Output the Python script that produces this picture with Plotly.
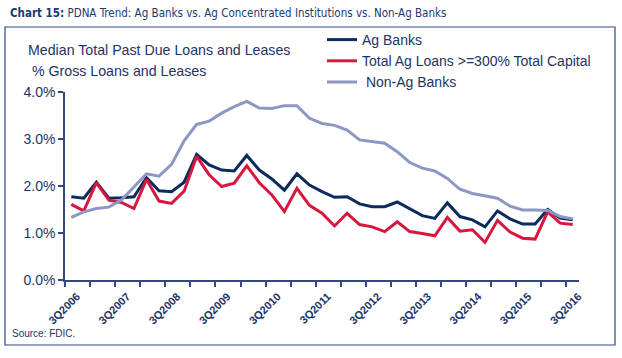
import plotly.graph_objects as go

# ---- data (% of gross loans and leases) ----
quarters = [f"{q}Q{y}" for y in range(2006, 2017) for q in (1, 2, 3, 4)][2:43]

ag_banks = [1.77, 1.74, 2.08, 1.74, 1.75, 1.77, 2.18, 1.90, 1.88, 2.08,
            2.67, 2.45, 2.34, 2.32, 2.65, 2.34, 2.15, 1.91, 2.26, 2.02,
            1.88, 1.76, 1.77, 1.62, 1.56, 1.56, 1.66, 1.52, 1.37, 1.31,
            1.64, 1.35, 1.28, 1.13, 1.47, 1.30, 1.19, 1.19, 1.50, 1.32, 1.28]
ag_conc = [1.61, 1.47, 2.07, 1.70, 1.65, 1.52, 2.14, 1.68, 1.63, 1.89,
           2.63, 2.24, 1.99, 2.06, 2.43, 2.07, 1.81, 1.46, 1.95, 1.59,
           1.42, 1.15, 1.42, 1.18, 1.13, 1.03, 1.24, 1.03, 0.99, 0.94,
           1.33, 1.04, 1.07, 0.80, 1.27, 1.02, 0.89, 0.87, 1.45, 1.21, 1.18]
non_ag = [1.33, 1.45, 1.52, 1.55, 1.70, 1.97, 2.26, 2.21, 2.46, 2.96,
          3.31, 3.38, 3.55, 3.69, 3.80, 3.66, 3.65, 3.71, 3.71, 3.44,
          3.33, 3.29, 3.19, 2.98, 2.94, 2.91, 2.73, 2.50, 2.38, 2.32,
          2.16, 1.93, 1.84, 1.79, 1.74, 1.57, 1.49, 1.49, 1.48, 1.35, 1.30]
series_names = ["Ag Banks", "Total Ag Loans >=300% Total Capital", " Non-Ag Banks"]
y_ticks = [0, 1, 2, 3, 4]
x_labels = ["3Q2006", "3Q2007", "3Q2008", "3Q2009", "3Q2010", "3Q2011",
            "3Q2012", "3Q2013", "3Q2014", "3Q2015", "3Q2016"]

NAVY = "#0c2b5c"
RED = "#d8173f"
LAV = "#8e96c3"
TXT = "#1c3466"
AX = "#33467e"

xpos = [i + 0.5 for i in range(len(quarters))]

fig = go.Figure()
for name, vals, col in zip(series_names, [ag_banks, ag_conc, non_ag], [NAVY, RED, LAV]):
    fig.add_trace(go.Scatter(x=xpos, y=vals, mode="lines", name=name,
                             line=dict(color=col, width=3),
                             customdata=quarters,
                             hovertemplate="%{customdata}: %{y:.2f}%<extra>" + name + "</extra>"))

tickvals = list(range(0, len(quarters), 2))
ticktext = [f"<b>{x_labels[t // 4]}</b>" if t % 4 == 0 else "" for t in tickvals]

W, H = 622, 358
L, R, T, B = 65, 43, 92, 78
pw, ph = W - L - R, H - T - B

def px(x):
    return (x - L) / pw

def py(y):
    return (H - B - y) / ph

fig.update_layout(
    width=W, height=H,
    margin=dict(l=L, r=R, t=T, b=B),
    paper_bgcolor="white", plot_bgcolor="white",
    font=dict(family="Liberation Sans, Arial, sans-serif", color=TXT, size=13),
    showlegend=True,
    legend=dict(x=px(322), y=py(24), xanchor="left", yanchor="top",
                bgcolor="rgba(0,0,0,0)", font=dict(size=14, color=TXT),
                itemwidth=30, tracegroupgap=0),
    xaxis=dict(range=[0, len(quarters)], tickmode="array", tickvals=tickvals,
               ticktext=ticktext, tickangle=-45, ticks="outside", ticklen=5,
               ticklabelshift=12, ticklabelstandoff=-1,
               tickcolor=AX, tickwidth=1.5, showline=True, linecolor=AX, linewidth=1.5,
               showgrid=False, zeroline=False,
               tickfont=dict(size=11, color=TXT, family="Liberation Sans, Arial, sans-serif")),
    yaxis=dict(range=[0, 4], tickmode="array", tickvals=y_ticks,
               ticktext=[f"{v:.1f}%" for v in y_ticks], ticks="outside", ticklen=5,
               tickcolor=AX, tickwidth=1.5, showline=True, linecolor=AX, linewidth=1.5,
               showgrid=False, zeroline=False, tickfont=dict(size=14, color=TXT)),
)

# outer frame
fig.add_shape(type="rect", xref="paper", yref="paper",
              x0=px(5), x1=px(615), y0=py(345), y1=py(27),
              line=dict(color="#2a4a86", width=1.2), layer="below")

# title
fig.add_annotation(xref="paper", yref="paper", x=px(8), y=py(13), xanchor="left", yanchor="middle",
                   showarrow=False,
                   text="<b>Chart 15:</b> PDNA Trend: Ag Banks vs. Ag Concentrated Institutions vs. Non-Ag Banks",
                   font=dict(family="Liberation Sans Narrow, DejaVu Sans Condensed, Arial Narrow, sans-serif",
                             size=11.5, color="#1b3a73"))
# axis title
fig.add_annotation(xref="paper", yref="paper", x=px(26), y=py(50), xanchor="left", yanchor="middle",
                   showarrow=False, text="Median Total Past Due Loans and Leases",
                   font=dict(size=14.2, color=TXT))
fig.add_annotation(xref="paper", yref="paper", x=px(26), y=py(71), xanchor="left", yanchor="middle",
                   showarrow=False, text=" % Gross Loans and Leases",
                   font=dict(size=14.2, color=TXT))
# source
fig.add_annotation(xref="paper", yref="paper", x=px(10), y=py(333), xanchor="left", yanchor="middle",
                   showarrow=False, text="Source: FDIC.", font=dict(size=10, color=TXT))

fig.write_html("out.html", config={"displayModeBar": False},
               post_script="document.body.style.margin='0px';")
